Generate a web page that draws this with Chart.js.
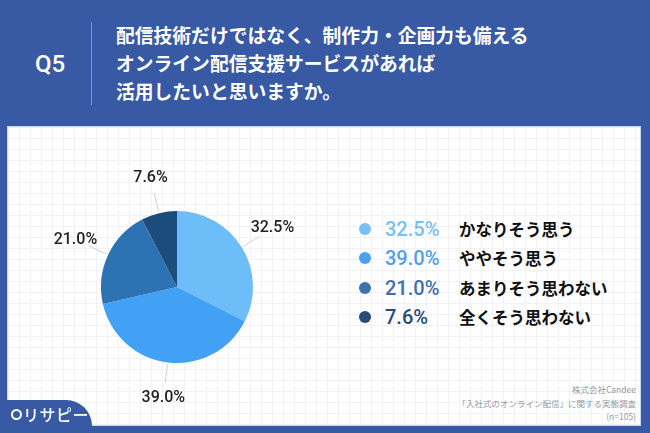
<!DOCTYPE html>
<html lang="ja">
<head>
<meta charset="utf-8">
<script src="https://cdn.jsdelivr.net/npm/chart.js@4/dist/chart.umd.min.js"></script>
<style>
    html, body { margin: 0; padding: 0; }
    body {
        width: 650px; height: 433px; overflow: hidden; position: relative;
        background: #3859a3;
        font-family: "Noto Sans CJK JP", "Noto Sans", sans-serif;
    }
    .q { position: absolute; left: 28px; top: 50px; width: 44px; text-align: center;
         color: #fff; font: 500 24px Roboto, "Liberation Sans", sans-serif; }
    .sep { position: absolute; left: 91px; top: 22px; width: 1px; height: 83px; background: rgba(255,255,255,0.35); }
    .title { position: absolute; left: 116px; top: 21px; color: #fff; font-weight: 700; font-size: 18.8px; line-height: 28px; white-space: nowrap; }
    .card {
        position: absolute; left: 7px; top: 126px; width: 634px; height: 300px;
        background-color: #fff;
        background-image:
            linear-gradient(to right, #f1f2f6 1px, transparent 1px),
            linear-gradient(to bottom, #f1f2f6 1px, transparent 1px);
        background-size: 11px 11px;
        border: 1px solid #c9d3ea;
        box-sizing: border-box;
    }
    #pie { position: absolute; left: 27px; top: 137px; }
    .legend { position: absolute; left: 359px; top: 214px; }
    .row { height: 29.5px; display: flex; align-items: center; white-space: nowrap; }
    .dot { width: 12px; height: 12px; border-radius: 50%; margin-right: 14px; }
    .pct { width: 74px; font: 500 20px Roboto, "Liberation Sans", sans-serif; }
    .lab { font-weight: 700; font-size: 16.5px; color: #111; }
    .note { position: absolute; right: 14px; top: 383px; text-align: right; color: #9a9a9a; font-size: 8.5px; line-height: 13.5px; white-space: nowrap; }
    .logo { position: absolute; left: 7px; top: 400px; width: 85px; height: 27px; background: #3859a3; border-top-right-radius: 26px; }
    .logo span { position: absolute; left: 16px; top: 2px; color: #fff; font-size: 16px; font-weight: 500; letter-spacing: 0.5px; white-space: nowrap; }
    .pin { position: absolute; left: 4px; top: 9px; width: 7px; height: 7px; border: 2px solid #fff; border-radius: 50%; }
</style>
</head>
<body>
<div class="q">Q5</div>
<div class="sep"></div>
<div class="title">配信技術だけではなく、制作力・企画力も備える<br>オンライン配信支援サービスがあれば<br>活用したいと思いますか。</div>
<div class="card"></div>
<canvas id="pie" width="300" height="300"></canvas>
<div class="legend" id="legend"></div>
<div class="note">株式会社Candee<br>「入社式のオンライン配信」に関する実態調査<br>(n=105)</div>
<div class="logo"><div class="pin"></div><span>リサピー</span></div>
<script>
const categories = ['かなりそう思う', 'ややそう思う', 'あまりそう思わない', '全くそう思わない'];
const values = [32.5, 39.0, 21.0, 7.6];
const sliceColors = ['#6dbdf8', '#42a1f5', '#2d73b4', '#1b4c7c'];
const legendColors = ['#78bff5', '#4d9fef', '#3f70ae', '#2a4a7a'];

// legend on the right
const legendEl = document.getElementById('legend');
categories.forEach(function (c, i) {
    const row = document.createElement('div');
    row.className = 'row';
    row.innerHTML = '<div class="dot" style="background:' + legendColors[i] + '"></div>' +
        '<div class="pct" style="color:' + legendColors[i] + '">' + values[i].toFixed(1) + '%</div>' +
        '<div class="lab">' + c + '</div>';
    legendEl.appendChild(row);
});

// outside labels with leader lines
const outsideLabels = {
    id: 'outsideLabels',
    afterDatasetsDraw: function (chart) {
        const ctx = chart.ctx;
        const meta = chart.getDatasetMeta(0);
        ctx.save();
        meta.data.forEach(function (arc, i) {
            const p = arc.getProps(['x', 'y', 'startAngle', 'endAngle', 'outerRadius'], true);
            const a = (p.startAngle + p.endAngle) / 2;
            const cos = Math.cos(a), sin = Math.sin(a);
            ctx.strokeStyle = '#d0d0d0';
            ctx.lineWidth = 1;
            ctx.beginPath();
            ctx.moveTo(p.x + cos * (p.outerRadius + 2), p.y + sin * (p.outerRadius + 2));
            ctx.lineTo(p.x + cos * (p.outerRadius + 21), p.y + sin * (p.outerRadius + 21));
            ctx.stroke();
            ctx.fillStyle = '#222';
            ctx.font = '500 16px Roboto, "Liberation Sans", sans-serif';
            ctx.textAlign = 'center';
            ctx.textBaseline = 'middle';
            const r = p.outerRadius + 36;
            ctx.fillText(values[i].toFixed(1) + '%', p.x + cos * r, p.y + sin * r);
        });
        ctx.restore();
    }
};

new Chart(document.getElementById('pie'), {
    type: 'pie',
    data: {
        labels: categories,
        datasets: [{
            data: values,
            backgroundColor: sliceColors,
            borderWidth: 0
        }]
    },
    options: {
        responsive: false,
        animation: false,
        layout: { padding: 74 },
        plugins: {
            legend: { display: false },
            tooltip: { enabled: false }
        }
    },
    plugins: [outsideLabels]
});
</script>
</body>
</html>
